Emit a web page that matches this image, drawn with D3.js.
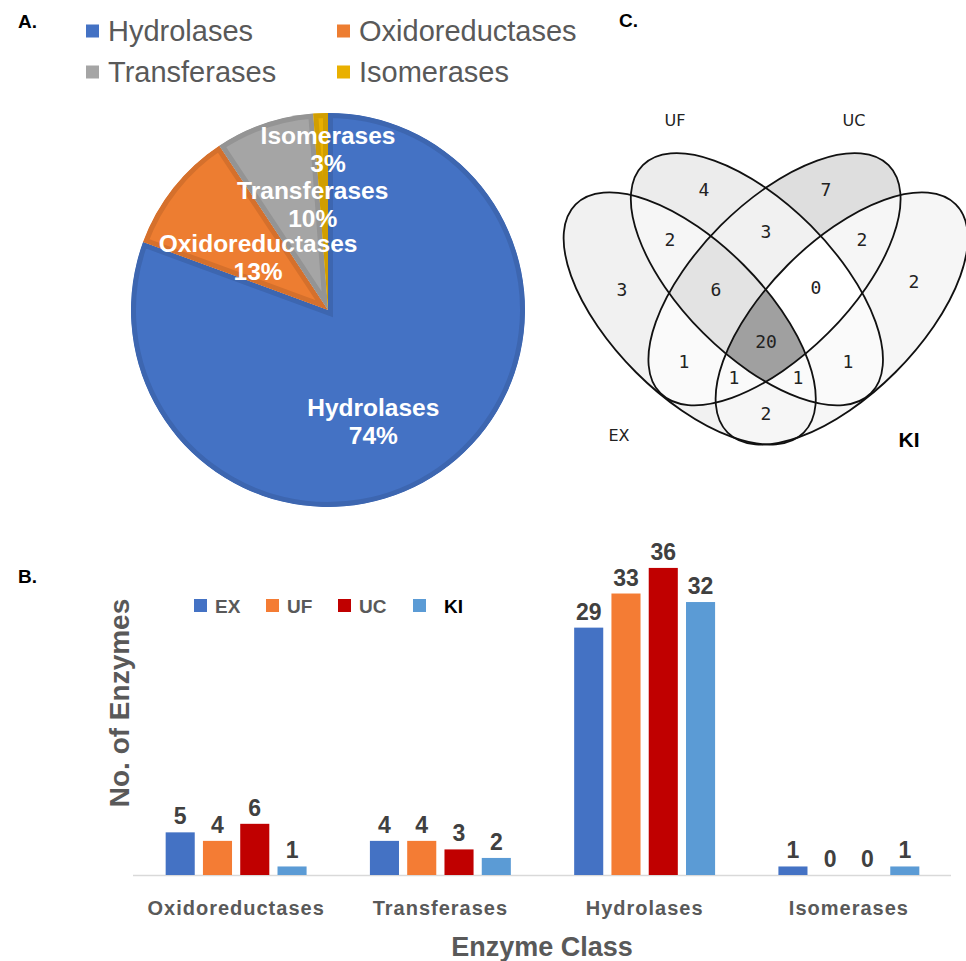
<!DOCTYPE html>
<html>
<head>
<meta charset="utf-8">
<script src="https://cdn.jsdelivr.net/npm/d3@7"></script>
<style>
  body { margin: 0; background: #fff; }
  svg { display: block; }
</style>
</head>
<body>
<div id="chart"></div>
<script>
// ---- panel A : pie ----
const pieClasses = ["Hydrolases", "Oxidoreductases", "Transferases", "Isomerases"];
const pieShares = [80.6, 10.1, 8.1, 1.2];          // slice sizes as drawn
const piePctLabels = ["74%", "13%", "10%", "3%"];   // printed labels
const pieColors = ["#4472C4", "#ED7D31", "#A5A5A5", "#E9B000"];

// ---- panel B : grouped bars ----
const categories = ["Oxidoreductases", "Transferases", "Hydrolases", "Isomerases"];
const series = ["EX", "UF", "UC", "KI"];
const EX = [5, 4, 29, 1];
const UF = [4, 4, 33, 0];
const UC = [6, 3, 36, 0];
const KI = [1, 2, 32, 1];
const barColors = ["#4472C4", "#F47C34", "#C00000", "#5B9BD5"];

// ---- panel C : venn ----
const vennSets = ["EX", "UF", "UC", "KI"];
const vennKeys = ["EX", "UF", "UC", "KI", "EX&UF", "UF&UC", "UC&KI", "EX&UC", "UF&KI", "EX&KI",
  "EX&UF&UC", "UF&UC&KI", "EX&UC&KI", "EX&UF&KI", "EX&UF&UC&KI"];
const vennCounts = [3, 4, 7, 2, 2, 3, 2, 1, 1, 2, 6, 0, 1, 1, 20];

const W = 966, H = 961;
const svg = d3.select("#chart").append("svg").attr("width", W).attr("height", H);
const defs = svg.append("defs");
const grey = "#595959";

function panelTag(txt, x, y) {
  svg.append("text").attr("x", x).attr("y", y).text(txt)
    .attr("font-family", "Liberation Sans, Arial, sans-serif")
    .attr("font-weight", "bold").attr("font-size", 19).attr("fill", "#000");
}
panelTag("A.", 18, 28);
panelTag("B.", 18, 583);
panelTag("C.", 619, 27);

// ================= A. pie =================
const pieCx = 328, pieCy = 310, pieR = 197;

const legA = svg.append("g");
pieClasses.forEach((c, i) => {
  const gx = i % 2 === 0 ? 86 : 337;
  const gy = i < 2 ? 31 : 72;
  legA.append("rect").attr("x", gx).attr("y", gy - 6.5).attr("width", 13).attr("height", 13)
    .attr("fill", pieColors[i]);
  legA.append("text").attr("x", gx + 22).attr("y", gy + 10).text(c)
    .attr("font-family", "Liberation Sans, Arial, sans-serif")
    .attr("font-size", 29).attr("fill", grey);
});

const pieData = d3.pie().sort(null).value(d => d)(pieShares);
const arc = d3.arc().innerRadius(0).outerRadius(pieR);
const pieG = svg.append("g").attr("transform", `translate(${pieCx},${pieCy})`);
pieData.forEach((d, i) => {
  defs.append("clipPath").attr("id", "slice" + i).append("path").attr("d", arc(d));
});
pieG.selectAll("path.slice").data(pieData).join("path")
  .attr("class", "slice")
  .attr("d", arc)
  .attr("fill", (d, i) => pieColors[i])
  .attr("stroke", (d, i) => d3.color(pieColors[i]).darker(0.3))
  .attr("stroke-width", 10)
  .attr("clip-path", (d, i) => `url(#slice${i})`);

// label anchor: [angle clockwise from top in deg, distance from centre]
const pieLabelPolar = [[158, 121], [306.5, 87], [351.7, 106], [0, 160]];
pieData.forEach((d, i) => {
  const a = pieLabelPolar[i][0] * Math.PI / 180, r = pieLabelPolar[i][1];
  const px = Math.sin(a) * r, py = -Math.cos(a) * r;
  const t = pieG.append("text").attr("text-anchor", "middle")
    .attr("font-family", "Liberation Sans, Arial, sans-serif")
    .attr("font-weight", "bold").attr("font-size", 24.5).attr("fill", "#fff");
  t.append("tspan").attr("x", px).attr("y", py - 6).text(pieClasses[i]);
  t.append("tspan").attr("x", px).attr("y", py + 22).text(piePctLabels[i]);
});

// ================= B. bars =================
const base = 875;
const x0 = d3.scaleBand().domain(categories).range([134, 951]).paddingInner(0.31).paddingOuter(0.155);
const x1 = d3.scaleBand().domain(series).range([0, x0.bandwidth()]).paddingInner(0.22);
const y = d3.scaleLinear().domain([0, 40]).range([base, base - 40 * 8.53]);
const values = { EX, UF, UC, KI };
const barG = svg.append("g");

const xAxis = barG.append("g").attr("transform", `translate(0,${base})`)
  .call(d3.axisBottom(x0).tickSize(0).tickPadding(26));
xAxis.select(".domain").attr("stroke", "#D9D9D9").attr("stroke-width", 1.3)
  .attr("d", `M133,0.5H951`);
xAxis.selectAll("text")
  .attr("font-family", "Liberation Sans, Arial, sans-serif")
  .attr("font-weight", "bold").attr("font-size", 20).attr("letter-spacing", 1)
  .attr("fill", grey);

const groups = barG.selectAll("g.grp").data(categories).join("g")
  .attr("class", "grp").attr("transform", d => `translate(${x0(d)},0)`);
groups.selectAll("rect").data((c, ci) => series.map((s, si) => ({ s, si, v: values[s][ci] })))
  .join("rect")
  .attr("x", d => x1(d.s))
  .attr("width", x1.bandwidth())
  .attr("y", d => y(d.v))
  .attr("height", d => base - y(d.v))
  .attr("fill", d => barColors[d.si]);
groups.selectAll("text").data((c, ci) => series.map((s, si) => ({ s, si, v: values[s][ci] })))
  .join("text")
  .attr("x", d => x1(d.s) + x1.bandwidth() / 2)
  .attr("y", d => y(d.v) - 8)
  .attr("text-anchor", "middle")
  .attr("font-family", "Liberation Sans, Arial, sans-serif")
  .attr("font-weight", "bold").attr("font-size", 23).attr("fill", "#404040")
  .text(d => d.v);

barG.append("text").attr("transform", `translate(129,703) rotate(-90)`)
  .attr("text-anchor", "middle")
  .attr("font-family", "Liberation Sans, Arial, sans-serif")
  .attr("font-weight", "bold").attr("font-size", 28).attr("fill", grey)
  .text("No. of Enzymes");
barG.append("text").attr("x", 542).attr("y", 956)
  .attr("text-anchor", "middle")
  .attr("font-family", "Liberation Sans, Arial, sans-serif")
  .attr("font-weight", "bold").attr("font-size", 27).attr("fill", grey)
  .text("Enzyme Class");

const legBx = [194, 266, 338, 413];
series.forEach((s, i) => {
  barG.append("rect").attr("x", legBx[i]).attr("y", 599).attr("width", 13).attr("height", 13)
    .attr("fill", barColors[i]);
  barG.append("text").attr("x", legBx[i] + (s === "KI" ? 31 : 21)).attr("y", 612.5)
    .attr("font-family", "Liberation Sans, Arial, sans-serif")
    .attr("font-weight", "bold").attr("font-size", 19)
    .attr("fill", s === "KI" ? "#000" : grey).text(s);
});

// ================= C. venn =================
const ea = 161.3, eb = 76;
const ellipses = [
  { cx: 689.7, cy: 318.5, rot: 45 },   // EX
  { cx: 756.9, cy: 279.2, rot: 45 },   // UF
  { cx: 774.5, cy: 279.2, rot: -45 },  // UC
  { cx: 841.7, cy: 318.5, rot: -45 }   // KI
];
const vennG = svg.append("g");
const bx = 540, by = 130, bw = 426, bh = 330;

ellipses.forEach((e, i) => {
  defs.append("clipPath").attr("id", "ell" + i).append("ellipse")
    .attr("cx", e.cx).attr("cy", e.cy).attr("rx", ea).attr("ry", eb)
    .attr("transform", `rotate(${e.rot},${e.cx},${e.cy})`);
});

function inside(e, px, py) {
  const t = -e.rot * Math.PI / 180;
  const dx = px - e.cx, dy = py - e.cy;
  const u = dx * Math.cos(t) - dy * Math.sin(t);
  const v = dx * Math.sin(t) + dy * Math.cos(t);
  return (u * u) / (ea * ea) + (v * v) / (eb * eb) <= 1;
}

const shade = d3.scaleLinear().domain([0, 20]).range(["#ffffff", "#a0a0a0"]);

vennKeys.forEach((key, k) => {
  const ins = key.split("&").map(s => vennSets.indexOf(s));
  const outs = d3.range(4).filter(i => !ins.includes(i));
  const m = defs.append("mask").attr("id", "mask" + k).attr("maskUnits", "userSpaceOnUse")
    .attr("x", bx).attr("y", by).attr("width", bw).attr("height", bh);
  m.append("rect").attr("x", bx).attr("y", by).attr("width", bw).attr("height", bh).attr("fill", "#fff");
  outs.forEach(i => {
    const e = ellipses[i];
    m.append("ellipse").attr("cx", e.cx).attr("cy", e.cy).attr("rx", ea).attr("ry", eb)
      .attr("transform", `rotate(${e.rot},${e.cx},${e.cy})`).attr("fill", "#000");
  });
  let g = vennG;
  ins.forEach(i => { g = g.append("g").attr("clip-path", `url(#ell${i})`); });
  g.append("rect").attr("x", bx).attr("y", by).attr("width", bw).attr("height", bh)
    .attr("fill", shade(vennCounts[k])).attr("mask", `url(#mask${k})`);
});

vennG.selectAll("ellipse.outline").data(ellipses).join("ellipse")
  .attr("class", "outline")
  .attr("cx", d => d.cx).attr("cy", d => d.cy).attr("rx", ea).attr("ry", eb)
  .attr("transform", d => `rotate(${d.rot},${d.cx},${d.cy})`)
  .attr("fill", "none").attr("stroke", "#111").attr("stroke-width", 1.8);

// place each count at the point of its region farthest from any outline
const edge = [];
ellipses.forEach(e => {
  const t = e.rot * Math.PI / 180;
  for (let s = 0; s < 720; s++) {
    const p = s / 720 * 2 * Math.PI;
    const u = ea * Math.cos(p), v = eb * Math.sin(p);
    edge.push([e.cx + u * Math.cos(t) - v * Math.sin(t), e.cy + u * Math.sin(t) + v * Math.cos(t)]);
  }
});
const best = vennKeys.map(() => ({ d: -1, x: 0, y: 0 }));
for (let py = by; py < by + bh; py += 2) {
  for (let px = bx; px < bx + bw; px += 2) {
    const mem = ellipses.map(e => inside(e, px, py));
    if (!mem.some(Boolean)) continue;
    const key = vennSets.filter((s, i) => mem[i]).join("&");
    const k = vennKeys.indexOf(key);
    let dmin = Infinity;
    for (const q of edge) {
      const dd = (q[0] - px) ** 2 + (q[1] - py) ** 2;
      if (dd < dmin) dmin = dd;
    }
    if (dmin > best[k].d) best[k] = { d: dmin, x: px, y: py };
  }
}
vennKeys.forEach((key, k) => {
  vennG.append("text").attr("x", best[k].x).attr("y", best[k].y + 4)
    .attr("text-anchor", "middle")
    .attr("font-family", "DejaVu Sans Mono, monospace")
    .attr("font-size", 18).attr("fill", "#222").text(vennCounts[k]);
});

const setLabelPos = [[619, 441, 0], [675, 126, 0], [854, 126, 0], [909, 447, 1]];
vennSets.forEach((s, i) => {
  const p = setLabelPos[i];
  vennG.append("text").attr("x", p[0]).attr("y", p[1]).attr("text-anchor", "middle")
    .attr("font-family", p[2] ? "Liberation Sans, Arial, sans-serif" : "DejaVu Sans, sans-serif")
    .attr("font-weight", p[2] ? "bold" : "normal")
    .attr("font-size", p[2] ? 21 : 16).attr("fill", p[2] ? "#000" : "#222").text(s);
});
</script>
</body>
</html>
